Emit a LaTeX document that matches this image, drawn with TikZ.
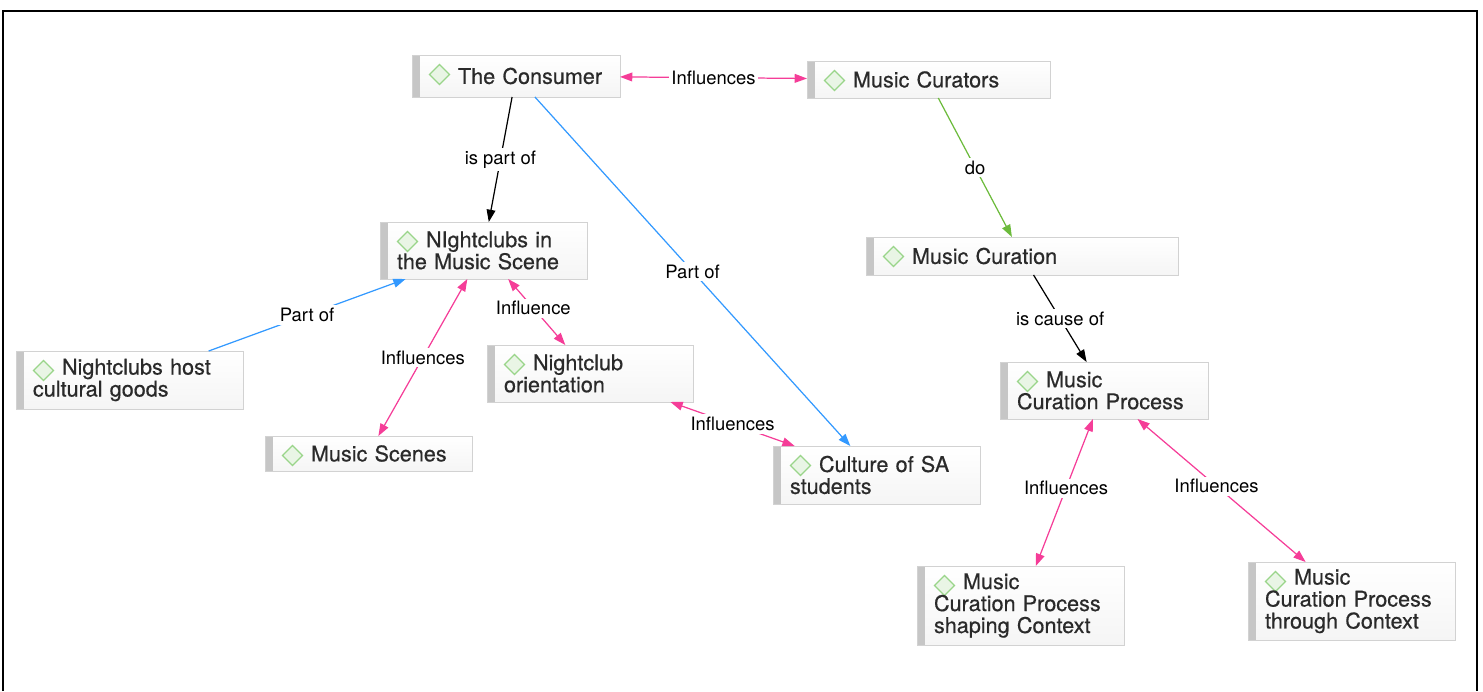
\documentclass[tikz,border=0pt]{standalone}
\usepackage{fontspec}
\setmainfont{TeX Gyre Heros}
\newfontfamily\conceptfont[FakeBold=0.5]{TeX Gyre Heros}
\usepackage[HTML]{xcolor}
\usetikzlibrary{arrows.meta}
\hyphenpenalty=10000
\exhyphenpenalty=10000

\definecolor{pinkrel}{HTML}{F53D98}
\definecolor{bluerel}{HTML}{3399FF}
\definecolor{greenrel}{HTML}{6CBB3C}
\definecolor{boxline}{HTML}{D2D2D2}
\definecolor{boxbar}{HTML}{C6C6C6}
\definecolor{icongreen}{HTML}{9AD58A}
\definecolor{iconfill}{HTML}{E9F5E5}
\definecolor{nodetext}{HTML}{2A2A2A}

\tikzset{
  concept/.style={anchor=north west, draw=boxline, line width=0.5pt,
    top color=white, bottom color=black!4, text=nodetext, align=left,
    inner xsep=0.34cm, inner ysep=0pt, outer sep=0pt,
    font=\conceptfont\fontsize{12.3}{12.5}\selectfont,
    path picture={
      \fill[boxbar] (path picture bounding box.north west) rectangle ([xshift=0.16cm]path picture bounding box.south west);
      \filldraw[draw=icongreen, fill=iconfill, line width=0.7pt]
        ([shift={(0.55cm,-0.39cm)}]path picture bounding box.north west)
        ++(0,0.2cm) -- ++(0.2cm,-0.2cm) -- ++(-0.2cm,-0.2cm) -- ++(-0.2cm,0.2cm) -- cycle;
    }},
  lbl/.style={fill=white, text=black, inner sep=1.5pt, font=\fontsize{10.5}{12}\selectfont}
}

\begin{document}
\begin{tikzpicture}[x=0.02cm, y=-0.02cm, line width=0.7pt, >={Triangle[length=7pt,width=5pt]}]
\useasboundingbox (0,0) rectangle (1483,691);
\draw[line width=1.4pt] (3,691) -- (3,11) -- (1477,11) -- (1477,691);

% consumer and curation
\node[concept, text width=3.48cm, minimum height=0.84cm] (consumer) at (412,55) {\hspace*{0.58cm}The~Consumer};
\node[concept, text width=4.18cm, minimum height=0.74cm] (curators) at (807,61) {\hspace*{0.58cm}Music~Curators};
\node[concept, text width=5.56cm, minimum height=0.76cm] (curation) at (866,237) {\hspace*{0.58cm}Music~Curation};
\node[concept, text width=3.48cm, minimum height=1.14cm] (process) at (1000,362) {\hspace*{0.58cm}Music\\Curation~Process};
\node[concept, text width=3.46cm, minimum height=1.58cm] (shaping) at (917,566) {\hspace*{0.58cm}Music\\Curation~Process\\shaping~Context};
\node[concept, text width=3.46cm, minimum height=1.56cm] (through) at (1248,562) {\hspace*{0.58cm}Music\\Curation~Process\\through~Context};

% nightclubs
\node[concept, text width=3.46cm, minimum height=1.14cm] (nightclubs) at (380,222) {\hspace*{0.58cm}NIghtclubs~in\\the~Music~Scene};
\node[concept, text width=3.86cm, minimum height=1.16cm] (host) at (16,351) {\hspace*{0.58cm}Nightclubs~host\\cultural~goods};
\node[concept, text width=3.46cm, minimum height=0.70cm] (scenes) at (265,436) {\hspace*{0.58cm}Music~Scenes};
\node[concept, text width=3.44cm, minimum height=1.14cm] (orientation) at (487,345) {\hspace*{0.58cm}Nightclub\\orientation};
\node[concept, text width=3.46cm, minimum height=1.16cm] (culture) at (773,446) {\hspace*{0.58cm}Culture~of~SA\\students};

% relations
\draw[pinkrel, <->] (consumer) -- node[lbl] {Influences} (curators);
\draw[->] (consumer) -- node[lbl] {is part of} (nightclubs);
\draw[bluerel, ->] (consumer) -- node[lbl] {Part of} (culture);
\draw[greenrel, ->] (curators) -- node[lbl] {do} (curation);
\draw[->] (curation) -- node[lbl] {is cause of} (process);
\draw[pinkrel, <->] (process) -- node[lbl, pos=0.47] {Influences} (shaping);
\draw[pinkrel, <->] (process) -- node[lbl, pos=0.47] {Influences} (through);
\draw[bluerel, ->] (host) -- node[lbl] {Part of} (nightclubs);
\draw[pinkrel, <->] (scenes) -- node[lbl] {Influences} (nightclubs);
\draw[pinkrel, <->] (nightclubs) -- node[lbl, pos=0.44] {Influence} (orientation);
\draw[pinkrel, <->] (orientation) -- node[lbl] {Influences} (culture);
\end{tikzpicture}
\end{document}
